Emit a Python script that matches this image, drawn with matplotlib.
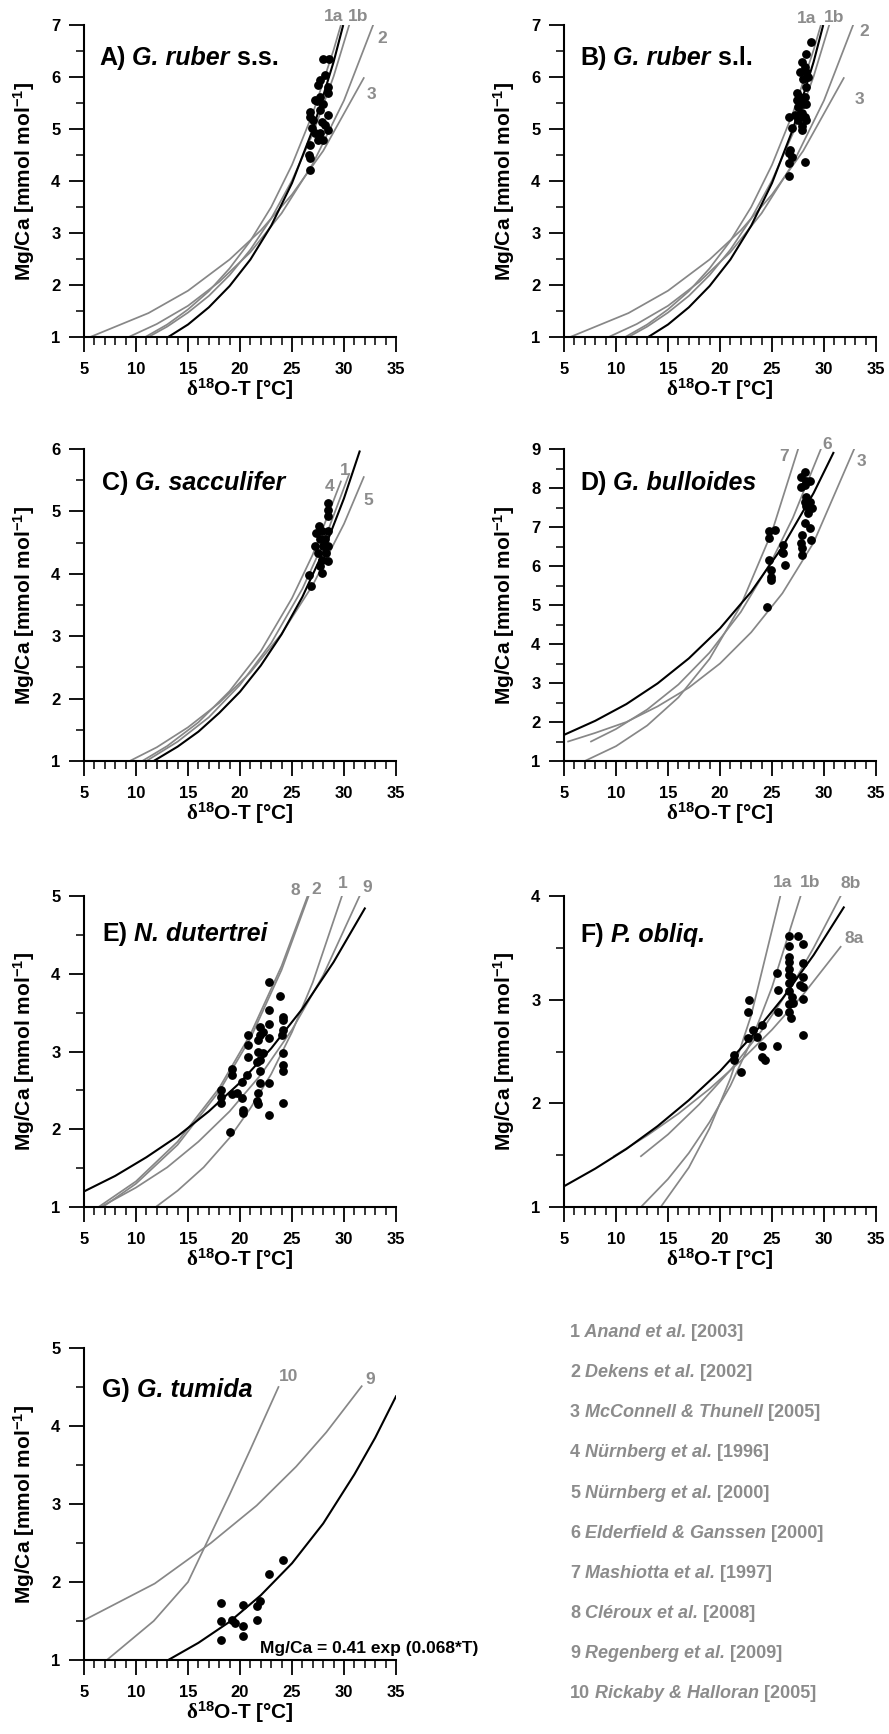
import matplotlib
matplotlib.use('Agg')
import matplotlib.pyplot as plt
from matplotlib.ticker import MultipleLocator

plt.rcParams['font.family'] = ['Liberation Sans', 'DejaVu Sans']
plt.rcParams['font.weight'] = 'bold'
plt.rcParams['mathtext.fontset'] = 'custom'
plt.rcParams['mathtext.rm'] = 'Liberation Serif'
plt.rcParams['mathtext.bf'] = 'Liberation Sans:bold'
plt.rcParams['mathtext.it'] = 'Liberation Sans:italic'

LABEL_GRAY = '#8c8c8c'
LINE_GRAY = '#878787'

# ---------------- data ----------------
# A) G. ruber s.s. samples
ruber_ss_T = [28.0, 28.6, 27.7, 28.2, 28.5, 27.2, 27.7, 28.5, 26.7, 26.7, 27.7, 28.5, 27.9, 28.2,
              26.9, 28.5, 27.7, 27.2, 26.7, 27.5, 26.6, 26.7, 26.7, 27.4, 28.0, 27.0, 28.0, 27.5]
ruber_ss_mg = [6.34, 6.34, 5.94, 6.04, 5.81, 5.56, 5.62, 5.69, 5.33, 5.24, 5.37, 5.27, 5.14, 5.08,
               5.01, 4.98, 4.92, 4.92, 4.69, 4.79, 4.50, 4.44, 4.21, 5.53, 5.49, 5.17, 4.79, 5.84]

# B) G. ruber s.l. samples
ruber_sl_T = [28.75, 28.3, 27.85, 28.2, 27.7, 28.3, 28.0, 28.5, 28.3, 27.4, 27.7, 28.2, 28.0, 27.5,
              28.3, 27.85, 26.6, 27.2, 28.2, 27.5, 28.3, 27.85, 26.9, 26.75, 26.6, 26.9, 26.6, 28.2,
              26.6, 27.85, 27.4]
ruber_sl_mg = [6.68, 6.45, 6.28, 6.20, 6.10, 6.10, 5.97, 6.00, 5.81, 5.69, 5.62, 5.62, 5.49, 5.43,
               5.49, 5.30, 5.24, 5.27, 5.24, 5.17, 5.17, 5.05, 5.01, 4.60, 4.53, 4.47, 4.34, 4.37,
               4.09, 4.98, 5.56]

# calibration curves for G. ruber (A and B)
ruber_fit = ([13.1, 15, 17, 19, 21, 23, 25, 27, 29, 29.9],
             [1.00, 1.24, 1.57, 1.98, 2.49, 3.14, 3.96, 4.99, 6.29, 6.98])
ruber_1a = ([10.9, 13, 15, 17, 19, 21, 23, 25, 27, 29, 29.7],
            [1.00, 1.24, 1.53, 1.88, 2.32, 2.85, 3.50, 4.31, 5.30, 6.52, 7.00])
ruber_1b = ([11.2, 13, 15, 17, 19, 21, 23, 25, 27, 29, 30.5],
            [1.00, 1.20, 1.47, 1.79, 2.19, 2.68, 3.28, 4.01, 4.91, 6.01, 7.00])
ruber_2 = ([9.3, 12, 15, 18, 21, 24, 27, 30, 32.8],
           [1.00, 1.25, 1.60, 2.06, 2.63, 3.38, 4.33, 5.55, 7.00])
ruber_3 = ([5.6, 11.2, 15, 19, 22, 25, 28, 31.9],
           [1.00, 1.46, 1.89, 2.49, 3.05, 3.74, 4.58, 5.98])

# C) G. sacculifer
sacc_T = [28.5, 28.5, 28.5, 27.6, 27.3, 27.9, 28.5, 27.7, 28.2, 27.2, 28.0, 28.5, 27.5, 28.3,
          27.9, 28.5, 27.9, 26.6, 26.8, 27.7]
sacc_mg = [5.14, 5.03, 4.92, 4.76, 4.65, 4.68, 4.68, 4.55, 4.55, 4.44, 4.44, 4.44, 4.33, 4.33,
           4.22, 4.20, 4.01, 3.98, 3.80, 4.12]
sacc_fit = ([11.7, 14, 16, 18, 20, 22, 24, 26, 28, 30, 31.5],
            [1.00, 1.23, 1.47, 1.77, 2.11, 2.53, 3.03, 3.63, 4.35, 5.21, 5.96])
sacc_1 = ([11.0, 14, 17, 20, 23, 26, 28, 30.5],
          [1.00, 1.31, 1.70, 2.22, 2.89, 3.76, 4.49, 5.60])
sacc_4 = ([10.6, 13, 16, 19, 22, 25, 27, 29.7],
          [1.00, 1.24, 1.62, 2.12, 2.76, 3.61, 4.31, 5.48])
sacc_5 = ([9.4, 12, 15, 18, 21, 24, 27, 30, 31.9],
          [1.00, 1.22, 1.54, 1.93, 2.42, 3.04, 3.82, 4.80, 5.55])

# D) G. bulloides
bull_T = [28.2, 27.8, 28.3, 28.65, 27.8, 28.2, 28.3, 28.2, 28.65, 28.3, 28.8, 28.5, 28.2, 28.65,
          28.75, 27.85, 27.8, 27.85, 27.9, 24.7, 25.3, 24.7, 24.7, 24.9, 24.95, 24.9, 26.1, 26.1,
          26.0, 26.25, 24.5]
bull_mg = [8.40, 8.28, 8.19, 8.17, 8.02, 8.08, 7.78, 7.65, 7.65, 7.53, 7.48, 7.36, 7.10, 6.97,
           6.67, 6.80, 6.59, 6.46, 6.29, 6.91, 6.93, 6.71, 6.16, 5.90, 5.73, 5.65, 6.54, 6.33,
           6.37, 6.03, 4.94]
bull_fit = ([5, 8, 11, 14, 17, 20, 23, 26, 29, 30.9],
            [1.67, 2.03, 2.46, 2.99, 3.63, 4.40, 5.34, 6.49, 7.87, 8.90])
bull_7 = ([7.0, 10, 13, 16, 19, 22, 25, 27.5],
          [1.00, 1.38, 1.91, 2.63, 3.62, 4.99, 6.88, 8.99])
bull_6 = ([7.6, 10, 13, 16, 19, 22, 25, 27, 29.7],
          [1.50, 1.82, 2.32, 2.96, 3.78, 4.82, 6.15, 7.23, 9.00])
bull_3 = ([5.4, 8, 11, 14, 17, 20, 23, 26, 29, 32.9],
          [1.50, 1.72, 2.00, 2.40, 2.88, 3.50, 4.30, 5.30, 6.60, 9.00])

# E) N. dutertrei
dut_T = [22.8, 23.8, 22.8, 22.8, 24.1, 24.1, 24.1, 24.0, 21.9, 21.9, 22.2, 22.8, 20.8, 20.8,
         21.7, 20.8, 21.7, 22.2, 21.9, 21.6, 24.1, 24.1, 24.1, 19.2, 19.2, 20.7, 20.2, 21.9,
         21.9, 22.8, 18.2, 18.2, 18.2, 19.2, 19.7, 20.2, 20.3, 21.7, 21.7, 20.3, 22.8, 19.0,
         24.1, 21.6]
dut_mg = [3.90, 3.71, 3.54, 3.36, 3.45, 3.40, 3.28, 3.21, 3.32, 3.21, 3.25, 3.17, 3.21, 3.08,
          3.15, 2.93, 3.00, 2.98, 2.89, 2.87, 2.98, 2.83, 2.75, 2.78, 2.70, 2.70, 2.61, 2.75,
          2.59, 2.59, 2.50, 2.42, 2.34, 2.45, 2.46, 2.40, 2.25, 2.46, 2.33, 2.21, 2.18, 1.97,
          2.34, 2.36]
dut_fit = ([5, 8, 11, 14, 17, 20, 23, 26, 29, 32],
           [1.20, 1.40, 1.64, 1.91, 2.23, 2.60, 3.04, 3.55, 4.15, 4.84])
dut_8 = ([6.4, 10, 14, 18, 21, 24, 26.5],
         [1.00, 1.33, 1.84, 2.53, 3.22, 4.10, 5.00])
dut_2 = ([6.8, 10, 14, 18, 21, 24, 26.6],
         [1.00, 1.30, 1.80, 2.49, 3.17, 4.05, 5.00])
dut_1 = ([11.9, 14, 16.5, 19, 21, 23, 25, 27, 29.8],
         [1.00, 1.21, 1.51, 1.89, 2.27, 2.71, 3.25, 3.89, 5.00])
dut_9 = ([6.6, 10, 13, 16, 19, 22, 25, 28, 31.5],
         [1.00, 1.25, 1.51, 1.84, 2.23, 2.70, 3.28, 3.98, 5.00])

# F) P. obliquiloculata
obl_T = [26.6, 27.5, 28.0, 26.6, 26.6, 26.6, 28.0, 25.5, 26.6, 26.6, 26.9, 28.0, 26.6, 27.7,
         28.0, 25.6, 26.6, 26.9, 28.0, 26.6, 26.6, 25.6, 26.8, 28.0, 25.5, 22.8, 22.7, 22.7,
         23.2, 23.6, 24.0, 24.0, 24.0, 24.3, 21.3, 21.3, 22.0, 27.05]
obl_mg = [3.61, 3.61, 3.54, 3.52, 3.41, 3.36, 3.35, 3.26, 3.30, 3.24, 3.22, 3.22, 3.16, 3.14,
          3.12, 3.09, 3.08, 3.03, 3.01, 2.96, 2.88, 2.88, 2.82, 2.66, 2.55, 3.00, 2.88, 2.63,
          2.71, 2.64, 2.76, 2.55, 2.45, 2.42, 2.47, 2.42, 2.30, 2.97]
obl_fit = ([5, 8, 11, 14, 17, 20, 23, 26, 29, 31.9],
           [1.20, 1.37, 1.56, 1.78, 2.03, 2.31, 2.64, 3.01, 3.43, 3.89])
obl_1a = ([14.3, 17, 19, 21, 23, 25.8],
          [1.00, 1.38, 1.76, 2.24, 2.85, 4.00])
obl_1b = ([12.4, 15, 17, 19, 21, 23, 25, 27.75],
          [1.00, 1.27, 1.52, 1.82, 2.17, 2.60, 3.12, 4.00])
obl_8b = ([12.4, 15, 18, 21, 24, 27, 29, 31.6],
          [1.49, 1.70, 1.99, 2.32, 2.70, 3.15, 3.50, 4.00])
obl_8a = ([9.8, 13, 16, 19, 22, 25, 28, 31.6],
          [1.49, 1.69, 1.90, 2.14, 2.41, 2.71, 3.05, 3.51])

# G) G. tumida
tum_T = [24.1, 22.8, 21.9, 21.6, 21.6, 20.3, 18.2, 18.2, 18.2, 19.2, 19.5, 20.3, 20.3]
tum_mg = [2.28, 2.10, 1.76, 1.69, 1.51, 1.70, 1.73, 1.50, 1.26, 1.51, 1.48, 1.44, 1.31]
tum_fit = ([13.1, 16, 19, 22, 25, 28, 31, 33, 35],
           [1.00, 1.22, 1.49, 1.83, 2.24, 2.75, 3.38, 3.85, 4.38])
tum_10 = ([7.2, 11.7, 15.0, 17.0, 19.0, 21.0, 23.7],
          [1.00, 1.50, 2.00, 2.56, 3.12, 3.70, 4.50])
tum_9 = ([5.0, 11.8, 17.2, 21.6, 25.4, 28.3, 31.7],
         [1.51, 1.98, 2.50, 2.98, 3.48, 3.92, 4.51])

ref_numbers = ['1', '2', '3', '4', '5', '6', '7', '8', '9', '10']
ref_names = ['Anand et al.', 'Dekens et al.', 'McConnell & Thunell', 'Nürnberg et al.',
             'Nürnberg et al.', 'Elderfield & Ganssen', 'Mashiotta et al.', 'Cléroux et al.',
             'Regenberg et al.', 'Rickaby & Halloran']
ref_years = ['2003', '2002', '2005', '1996', '2000', '2000', '1997', '2008', '2009', '2005']


def rich_text(ax, x, y, parts, transform, size, color):
    # draw text pieces one after the other (normal / italic)
    t = ax.text(x, y, parts[0][0], transform=transform, va='baseline', ha='left',
                style=parts[0][1], fontsize=size, color=color, fontweight='bold')
    for s, st in parts[1:]:
        t = ax.annotate(s, xy=(1, 0), xycoords=t, va='bottom', ha='left', style=st,
                        fontsize=size, color=color, fontweight='bold', annotation_clip=False)
    return t


def setup(ax, ymax):
    ax.set_xlim(5, 35)
    ax.set_ylim(1, ymax)
    for s in ['top', 'right']:
        ax.spines[s].set_visible(False)
    for s in ['left', 'bottom']:
        ax.spines[s].set_linewidth(1.5)
    ax.xaxis.set_major_locator(MultipleLocator(5))
    ax.xaxis.set_minor_locator(MultipleLocator(1))
    ax.yaxis.set_major_locator(MultipleLocator(1))
    ax.yaxis.set_minor_locator(MultipleLocator(0.5))
    ax.tick_params(which='major', direction='out', length=11, width=1.3, labelsize=12)
    ax.tick_params(which='minor', direction='out', length=5.5, width=1.1)
    ax.tick_params(axis='x', which='major', pad=7)
    ax.tick_params(axis='y', which='major', pad=6)
    ax.set_ylabel(r'Mg/Ca [mmol mol$^{\mathbf{-1}}$]', fontsize=15, fontweight='bold')
    ax.set_xlabel(r'$\mathrm{\delta}^{\mathbf{18}}$O-T [°C]', fontsize=15, fontweight='bold')
    ax.yaxis.set_label_coords(-0.152, 0.5)
    ax.xaxis.set_label_coords(0.5, -0.125)


def draw(ax, fit, grays, T, mg):
    for c in grays:
        ax.plot(c[0], c[1], color=LINE_GRAY, lw=1.25, zorder=2)
    ax.plot(fit[0], fit[1], color='black', lw=1.5, zorder=3)
    ax.plot(T, mg, 'o', color='black', ms=5.3, zorder=4)


def tag(ax, items):
    for s, x, y in items:
        ax.text(x, y, s, color=LABEL_GRAY, fontsize=12.5, fontweight='bold',
                ha='center', va='center', clip_on=False)


fig = plt.figure(figsize=(8.89, 17.34), dpi=100)
W, H = 889.0, 1734.0


def make_ax(left, top, bottom):
    return fig.add_axes([left / W, 1 - bottom / H, 312 / W, (bottom - top) / H])


axA = make_ax(84, 25, 337)
axB = make_ax(564, 25, 337)
axC = make_ax(84, 449, 761)
axD = make_ax(564, 449, 761)
axE = make_ax(84, 896, 1207)
axF = make_ax(564, 896, 1207)
axG = make_ax(84, 1348, 1660)

# A
setup(axA, 7)
draw(axA, ruber_fit, [ruber_1a, ruber_1b, ruber_2, ruber_3], ruber_ss_T, ruber_ss_mg)
tag(axA, [('1a', 29.0, 7.16), ('1b', 31.4, 7.17), ('2', 33.7, 6.74), ('3', 32.6, 5.67)])
rich_text(axA, 0.048, 0.872, [('A)', 'normal'), (' G. ruber', 'italic'), (' s.s.', 'normal')],
          axA.transAxes, 18, 'black')

# B
setup(axB, 7)
draw(axB, ruber_fit, [ruber_1a, ruber_1b, ruber_2, ruber_3], ruber_sl_T, ruber_sl_mg)
tag(axB, [('1a', 28.3, 7.13), ('1b', 31.0, 7.15), ('2', 33.9, 6.87), ('3', 33.4, 5.56)])
rich_text(axB, 0.051, 0.872, [('B)', 'normal'), (' G. ruber', 'italic'), (' s.l.', 'normal')],
          axB.transAxes, 18, 'black')

# C
setup(axC, 6)
draw(axC, sacc_fit, [sacc_1, sacc_4, sacc_5], sacc_T, sacc_mg)
tag(axC, [('1', 30.1, 5.66), ('4', 28.6, 5.40), ('5', 32.3, 5.18)])
rich_text(axC, 0.058, 0.869, [('C)', 'normal'), (' G. sacculifer', 'italic')],
          axC.transAxes, 18, 'black')

# D
setup(axD, 9)
draw(axD, bull_fit, [bull_7, bull_6, bull_3], bull_T, bull_mg)
tag(axD, [('7', 26.2, 8.81), ('6', 30.35, 9.11), ('3', 33.6, 8.68)])
rich_text(axD, 0.051, 0.869, [('D)', 'normal'), (' G. bulloides', 'italic')],
          axD.transAxes, 18, 'black')

# E
setup(axE, 5)
draw(axE, dut_fit, [dut_8, dut_2, dut_1, dut_9], dut_T, dut_mg)
tag(axE, [('8', 25.35, 5.07), ('2', 27.3, 5.09), ('1', 29.9, 5.16), ('9', 32.2, 5.11)])
rich_text(axE, 0.058, 0.856, [('E)', 'normal'), (' N. dutertrei', 'italic')],
          axE.transAxes, 18, 'black')

# F
setup(axF, 4)
draw(axF, obl_fit, [obl_1a, obl_1b, obl_8b, obl_8a], obl_T, obl_mg)
tag(axF, [('1a', 26.0, 4.13), ('1b', 28.65, 4.13), ('8b', 32.6, 4.12), ('8a', 32.9, 3.59)])
rich_text(axF, 0.051, 0.853, [('F)', 'normal'), (' P. obliq.', 'italic')],
          axF.transAxes, 18, 'black')

# G
setup(axG, 5)
draw(axG, tum_fit, [tum_10, tum_9], tum_T, tum_mg)
tag(axG, [('10', 24.7, 4.64), ('9', 32.5, 4.60)])
rich_text(axG, 0.058, 0.844, [('G)', 'normal'), (' G. tumida', 'italic')],
          axG.transAxes, 18, 'black')
axG.text(21.9, 1.09, 'Mg/Ca = 0.41 exp (0.068*T)', fontsize=12.5, fontweight='bold',
         va='baseline', ha='left', clip_on=False)

# reference list
for i in range(len(ref_numbers)):
    y = 1 - (1336.7 + 40.2 * i) / H
    rich_text(axG, 570 / W, y,
              [(ref_numbers[i], 'normal'), (' ' + ref_names[i], 'italic'),
               (' [' + ref_years[i] + ']', 'normal')],
              fig.transFigure, 13, LABEL_GRAY)

fig.savefig('out.png', dpi=100)
